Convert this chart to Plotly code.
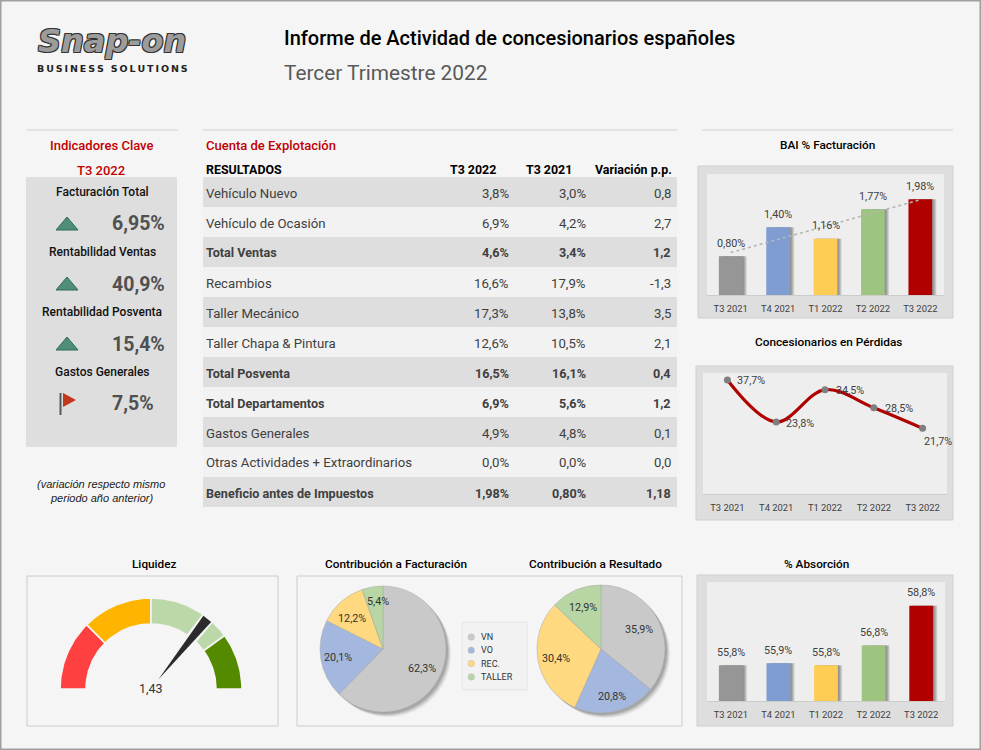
import numpy as np
import plotly.graph_objects as go

W, H = 981, 750
NARROW = "Roboto, sans-serif"
ROBOTO = "Roboto, sans-serif"
INK = "#404040"

# ---- data ----
periods = ["T3 2021", "T4 2021", "T1 2022", "T2 2022", "T3 2022"]
period_colors = ["#969696", "#7f9dd1", "#ffcc54", "#9dc57f", "#b00000"]
bai_values = [0.80, 1.40, 1.16, 1.77, 1.98]
perdidas_values = [37.7, 23.8, 34.5, 28.5, 21.7]
absorcion_values = [55.8, 55.9, 55.8, 56.8, 58.8]

kpi_names = ["Facturación Total", "Rentabilidad Ventas", "Rentabilidad Posventa", "Gastos Generales"]
kpi_values = ["6,95%", "40,9%", "15,4%", "7,5%"]
kpi_up = [True, True, True, False]

row_names = ["Vehículo Nuevo", "Vehículo de Ocasión", "Total Ventas", "Recambios", "Taller Mecánico",
             "Taller Chapa & Pintura", "Total Posventa", "Total Departamentos", "Gastos Generales",
             "Otras Actividades + Extraordinarios", "Beneficio antes de Impuestos"]
row_t3_2022 = ["3,8%", "6,9%", "4,6%", "16,6%", "17,3%", "12,6%", "16,5%", "6,9%", "4,9%", "0,0%", "1,98%"]
row_t3_2021 = ["3,0%", "4,2%", "3,4%", "17,9%", "13,8%", "10,5%", "16,1%", "5,6%", "4,8%", "0,0%", "0,80%"]
row_var = ["0,8", "2,7", "1,2", "-1,3", "3,5", "2,1", "0,4", "1,2", "0,1", "0,0", "1,18"]
row_bold = [False, False, True, False, False, False, True, True, False, False, True]

pie_labels = ["VN", "VO", "REC.", "TALLER"]
pie_colors = ["#c9c9c9", "#a4b8df", "#ffd97f", "#b7d6a3"]
fact_values = [62.3, 20.1, 12.2, 5.4]
res_values = [35.9, 20.8, 30.4, 12.9]

liquidez = 1.43
gauge_sections = [0.5, 0.5, 0.6, 0.4]
gauge_colors = ["#ff4040", "#ffb400", "#bcd8a8", "#548a00"]
gauge_max = 2.0


def fx(x): return x / W
def fy(y): return 1 - y / H


shapes, annots = [], []


def rect(x0, y0, x1, y1, fill, line=None, lw=1):
    shapes.append(dict(type="rect", xref="paper", yref="paper", x0=fx(x0), x1=fx(x1), y0=fy(y0), y1=fy(y1),
                       fillcolor=fill, line=dict(color=line or fill, width=lw if line else 0), layer="below"))


def hline(x0, x1, y, color="#d0d0d0", w=1):
    shapes.append(dict(type="line", xref="paper", yref="paper", x0=fx(x0), x1=fx(x1), y0=fy(y), y1=fy(y),
                       line=dict(color=color, width=w), layer="below"))


def txt(x, y, s, size=14, color="#000000", anchor="center", font=NARROW, weight=None, style=None, shadow=None):
    f = dict(size=size, color=color, family=font)
    if weight: f["weight"] = weight
    if style: f["style"] = style
    if shadow: f["shadow"] = shadow
    annots.append(dict(x=fx(x), y=fy(y), xref="paper", yref="paper", text=s, showarrow=False, borderpad=0, borderwidth=0,
                       xanchor=anchor, yanchor="middle", font=f, align=anchor))


# ---- page ----
rect(0.5, 0.5, W - 0.5, H - 0.5, "#f5f5f5", "#a0a0a0", 2)

# logo and titles
txt(112, 41, "Snap-on", size=32, color="#9c9c9c", font="DejaVu Sans", weight=700, style="italic",
    shadow="-1px -1px 0 #333,1px -1px 0 #333,-1px 1px 0 #333,1px 1px 0 #333")
txt(112, 69, "\u2009".join("BUSINESS SOLUTIONS"), size=9.5, color="#222222", font="DejaVu Sans", weight=700)
txt(284, 38, "Informe de Actividad de concesionarios españoles", size=20, color="#000000", anchor="left",
    font=ROBOTO, weight=500)
txt(284, 73, "Tercer Trimestre 2022", size=20.8, color="#595959", anchor="left", font=ROBOTO)

# left KPI column
hline(27, 178, 130)
txt(101, 145, "Indicadores Clave", size=13, color="#c00000", weight=500)
txt(101, 170, "T3 2022", size=13, color="#c00000", weight=500)
rect(26, 177, 177, 447, "#dedede")
for i, (n, v, up) in enumerate(zip(kpi_names, kpi_values, kpi_up)):
    y0 = 192 + 60 * i
    txt(102, y0, n, size=12, color="#111111", weight=500)
    txt(112, y0 + 32, v, size=19.5, color="#505050", anchor="left", weight=700)
    if up:
        xs, ys = 56, y0 + 25
        path = f"M{fx(xs)},{fy(ys + 13)} L{fx(xs + 22)},{fy(ys + 13)} L{fx(xs + 11)},{fy(ys)} Z"
        shapes.append(dict(type="path", xref="paper", yref="paper", path=path, fillcolor="#4f8f7a",
                           line=dict(color="#2f6b58", width=1), layer="above"))
    else:
        shapes.append(dict(type="line", xref="paper", yref="paper", x0=fx(60.5), x1=fx(60.5), y0=fy(y0 + 21), y1=fy(y0 + 43),
                           line=dict(color="#5a5a5a", width=2), layer="above"))
        path = f"M{fx(63)},{fy(y0 + 21)} L{fx(76)},{fy(y0 + 28)} L{fx(63)},{fy(y0 + 35)} Z"
        shapes.append(dict(type="path", xref="paper", yref="paper", path=path, fillcolor="#c0391b",
                           line=dict(color="#c0391b", width=0), layer="above"))
txt(101, 484, "(variación respecto mismo", size=11, color="#222222", font="Liberation Sans", style="italic")
txt(101, 498, "periodo año anterior)", size=11, color="#222222", font="Liberation Sans", style="italic")

# central table
hline(203, 677, 130)
txt(206, 145, "Cuenta de Explotación", size=13, color="#c00000", anchor="left", weight=500)
txt(206, 169, "RESULTADOS", size=12.4, anchor="left", weight=700)
txt(473, 169, "T3 2022", size=12.4, weight=700)
txt(549, 169, "T3 2021", size=12.4, weight=700)
txt(633, 169, "Variación p.p.", size=12.4, weight=700)
for i, name in enumerate(row_names):
    y0 = 177 + 30 * i
    rect(203, y0, 677, y0 + 30, "#dedede" if i % 2 == 0 else "#f2f2f2")
    w = 700 if row_bold[i] else None
    yc = y0 + 16
    size = 12.6 if row_bold[i] else 13.2
    txt(206, yc, name, size=size, color=INK, anchor="left", weight=w)
    txt(509, yc, row_t3_2022[i], size=size, color=INK, anchor="right", weight=w)
    txt(586, yc, row_t3_2021[i], size=size, color=INK, anchor="right", weight=w)
    txt(671, yc, row_var[i], size=size, color=INK, anchor="right", weight=w)

# panels
hline(702, 953, 130)
txt(827, 145, "BAI % Facturación", size=11.8, weight=500)
rect(698, 166, 953, 318, "#dedede", "#cfcfcf", 1)
rect(707, 174, 944, 295, "#eeeeee")
txt(828, 342, "Concesionarios en Pérdidas", size=11.8, weight=500)
rect(696, 366, 953, 520, "#dedede", "#cfcfcf", 1)
rect(703, 373, 947, 494, "#eeeeee")
txt(816, 564, "% Absorción", size=11.8, weight=500)
rect(697, 575, 953, 726, "#dedede", "#cfcfcf", 1)
rect(707, 582, 945, 701, "#eeeeee")
txt(154, 564, "Liquidez", size=11.8, weight=500)
rect(27, 576, 278, 726, "#f5f5f5", "#cccccc", 1)
txt(396, 564, "Contribución a Facturación", size=11.8, weight=500)
txt(595, 564, "Contribución a Resultado", size=11.8, weight=500)
rect(297, 576, 682, 726, "#f5f5f5", "#cccccc", 1)

fig = go.Figure()
axes = {}


def add_axes(n, x0, x1, y0, y1, yrange, xrange=None, show_x=True):
    sx = "" if n == 1 else str(n)
    xd = dict(domain=[fx(x0), fx(x1)], anchor="y" + sx, showgrid=False, zeroline=False, fixedrange=True,
              showline=show_x, linecolor="#cccccc", linewidth=1, ticks="outside", ticklen=5, tickcolor="rgba(0,0,0,0)",
              tickfont=dict(family=NARROW, size=9.4, color=INK), showticklabels=show_x)
    if xrange: xd["range"] = xrange
    yd = dict(domain=[fy(y1), fy(y0)], anchor="x" + sx, range=yrange, visible=False, fixedrange=True)
    axes["xaxis" + sx] = xd
    axes["yaxis" + sx] = yd
    return "x" + sx, "y" + sx


def bars(n, x0, x1, y0, y1, vals, yrange, fmt, lift):
    xa, ya = add_axes(n, x0, x1, y0, y1, yrange, xrange=[-0.5, 4.5])
    axes["xaxis" + ("" if n == 1 else str(n))].update(tickmode="array", tickvals=list(range(5)), ticktext=periods)
    for d in (0.09, 0.07, 0.05, 0.03):
        fig.add_trace(go.Bar(x=list(range(5)), y=vals, width=0.5, offset=-0.25 + d, xaxis=xa, yaxis=ya,
                             marker=dict(color="rgba(0,0,0,0.11)", line=dict(width=0)), hoverinfo="skip", showlegend=False))
    fig.add_trace(go.Bar(x=list(range(5)), y=vals, width=0.5, xaxis=xa, yaxis=ya, offset=-0.25,
                         marker=dict(color=period_colors, line=dict(width=0)), showlegend=False))
    for i, v in enumerate(vals):
        annots.append(dict(x=i, y=v, xref=xa, yref=ya, text=fmt(v), showarrow=False, yshift=lift, yanchor="middle",
                           font=dict(family=NARROW, size=10.8, color=INK)))
    return xa, ya


def comma(v, d):
    return f"{v:.{d}f}".replace(".", ",") + "%"


# BAI (bars + linear trend)
xa, ya = bars(1, 707, 944, 174, 295, bai_values, [0, 2.5], lambda v: comma(v, 2), 13)
trend = np.polyval(np.polyfit(range(5), bai_values, 1), range(5))
fig.add_trace(go.Scatter(x=list(range(5)), y=trend, xaxis=xa, yaxis=ya, mode="lines",
                         line=dict(color="#b5b5b5", width=1.6, dash="dot"), showlegend=False, hoverinfo="skip"))

# Absorción
bars(2, 707, 945, 582, 701, [v - 54 for v in absorcion_values], [0, 6], lambda v: comma(v + 54, 1), 13)

# Pérdidas
xa, ya = add_axes(3, 703, 947, 373, 494, [0, 40], xrange=[-0.5, 4.5])
axes["xaxis3"].update(tickmode="array", tickvals=list(range(5)), ticktext=periods)
fig.add_trace(go.Scatter(x=list(range(5)), y=perdidas_values, xaxis=xa, yaxis=ya, mode="lines+markers",
                         line=dict(color="#b00000", width=3.2, shape="spline", smoothing=1.0),
                         marker=dict(color="#7f7f7f", size=7), showlegend=False))
lab_shift = [(24, -1), (24, -1), (25, -1), (25, -1), (15, -13)]
for i, v in enumerate(perdidas_values):
    annots.append(dict(x=i, y=v, xref=xa, yref=ya, text=comma(v, 1), showarrow=False, xshift=lab_shift[i][0],
                       yshift=lab_shift[i][1], font=dict(family=NARROW, size=10.8, color=INK)))


# Pies (shadow layers first)
def pie(cx, cy, R, vals):
    for d, a in ((5, 0.06), (4, 0.08), (3, 0.10), (2, 0.12)):
        fig.add_trace(go.Pie(values=vals, sort=False, direction="clockwise", rotation=0, textinfo="none",
                             domain=dict(x=[fx(cx - R + d), fx(cx + R + d)], y=[fy(cy + R + d), fy(cy - R + d)]),
                             marker=dict(colors=[f"rgba(0,0,0,{a})"] * 4, line=dict(width=0)), hoverinfo="skip", showlegend=False))
    fig.add_trace(go.Pie(values=vals, labels=pie_labels, sort=False, direction="clockwise", rotation=0, textinfo="none",
                         domain=dict(x=[fx(cx - R), fx(cx + R)], y=[fy(cy + R), fy(cy - R)]),
                         marker=dict(colors=pie_colors, line=dict(color="#a8a8a8", width=0.5)), showlegend=False))


pie(383, 649, 63, fact_values)
pie(601, 649, 64, res_values)
fact_pos = [(422, 668), (338, 657), (352, 618), (378, 601)]
res_pos = [(639, 629), (612, 696), (556, 658), (583, 607)]
for v, (x, y) in zip(fact_values, fact_pos):
    txt(x, y, comma(v, 1), size=10.8, color="#333333")
for v, (x, y) in zip(res_values, res_pos):
    txt(x, y, comma(v, 1), size=10.8, color="#333333")

# legend box
rect(462, 622, 527, 690, "#f2f2f2", "#e4e4e4", 1)
for i, (lab, col) in enumerate(zip(pie_labels, pie_colors)):
    yc = 637 + 13.3 * i
    shapes.append(dict(type="circle", xref="paper", yref="paper", x0=fx(468), x1=fx(474.5), y0=fy(yc + 3.25), y1=fy(yc - 3.25),
                       fillcolor=col, line=dict(width=0.5, color="#bdbdbd"), layer="above"))
    txt(481, yc, lab, size=9, color="#333333", anchor="left")

# Gauge: ring sections and needle drawn on their own pixel-scaled axes
cx, cy, Ro, Ri = 151, 689, 91, 65
xa, ya = add_axes(4, cx - 100, cx + 100, cy - 100, cy + 30, [-30, 100], xrange=[-100, 100], show_x=False)
axes["xaxis4"].update(visible=False)
acc = 0.0
for sec, col in zip(gauge_sections, gauge_colors):
    t = np.pi * (1 - np.linspace(acc, acc + sec, 40) / gauge_max)
    acc += sec
    ax_ = np.r_[Ro * np.cos(t), Ri * np.cos(t[::-1])]
    ay_ = np.r_[Ro * np.sin(t), Ri * np.sin(t[::-1])]
    fig.add_trace(go.Scatter(x=np.r_[ax_, ax_[0]], y=np.r_[ay_, ay_[0]], xaxis=xa, yaxis=ya, mode="lines", fill="toself",
                             fillcolor=col, line=dict(width=1.6, color="#f5f5f5"), showlegend=False, hoverinfo="skip"))
theta = np.pi * (1 - liquidez / gauge_max)
dirv = np.array([np.cos(theta), np.sin(theta)])
perp = np.array([-dirv[1], dirv[0]])


def wedge(r0, r1, w0, w1):
    pts = [dirv * r0 + perp * w0, dirv * r1 + perp * w1, dirv * r1 - perp * w1, dirv * r0 - perp * w0, dirv * r0 + perp * w0]
    return [p[0] for p in pts], [p[1] for p in pts]


gx, gy = wedge(60, 97, 6.0, 6.8)
fig.add_trace(go.Scatter(x=gx, y=gy, xaxis=xa, yaxis=ya, mode="lines", fill="toself", fillcolor="#f5f5f5",
                         line=dict(width=0), showlegend=False, hoverinfo="skip"))
nx, ny = wedge(12, 90, 0.2, 5.0)
fig.add_trace(go.Scatter(x=nx, y=ny, xaxis=xa, yaxis=ya, mode="lines", fill="toself", fillcolor="#2b2b2b",
                         line=dict(width=0), showlegend=False, hoverinfo="skip"))
txt(151, 688, f"{liquidez:.2f}".replace(".", ","), size=12.5, color="#333333")

fig.update_layout(width=W, height=H, margin=dict(l=0, r=0, t=0, b=0), autosize=False, paper_bgcolor="#f5f5f5",
                  plot_bgcolor="rgba(0,0,0,0)", barmode="overlay", shapes=shapes, annotations=annots, showlegend=False,
                  font=dict(family=NARROW), **axes)

fig.write_html("out.html", config=dict(displayModeBar=False),
               post_script="document.body.style.margin='0';document.body.style.overflow='hidden';")
